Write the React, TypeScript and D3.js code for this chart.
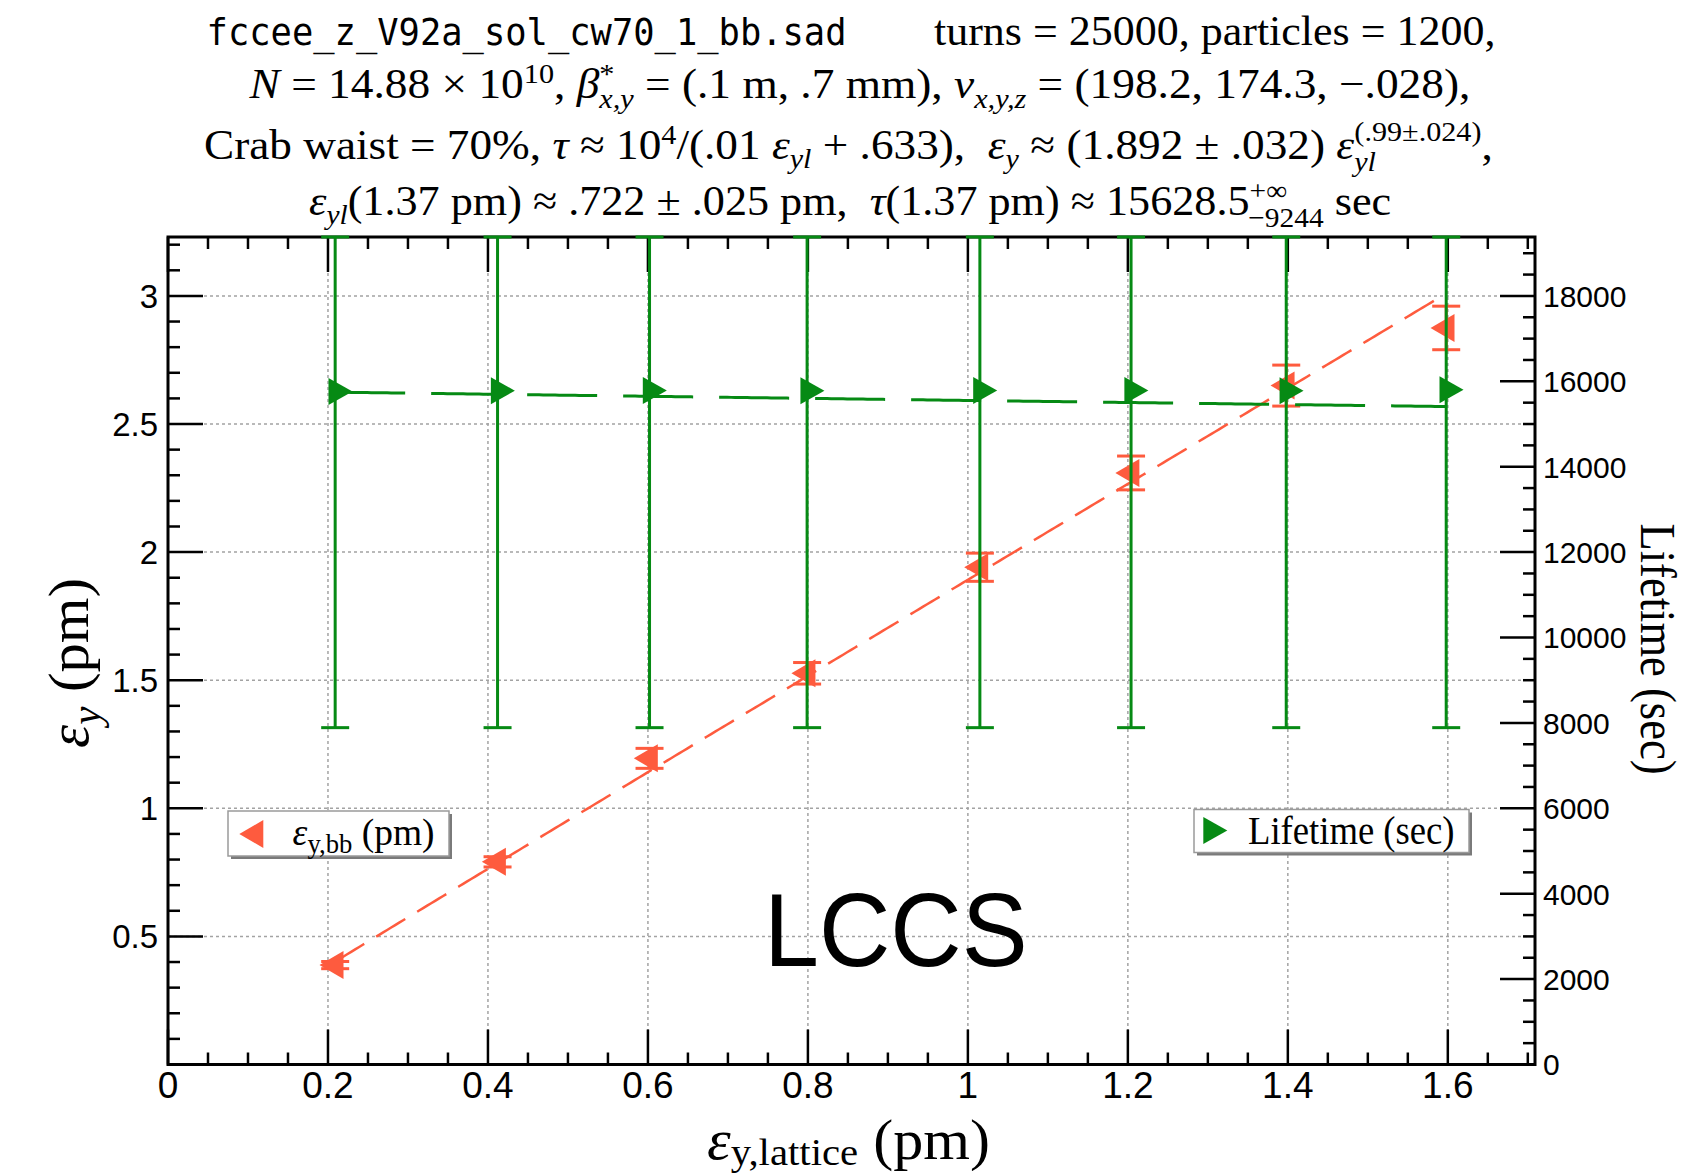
import React, { useLayoutEffect, useRef, useState } from 'react';
import * as d3 from 'd3';

// Lattice vertical emittance (pm) at each scan point
const latticeEmit = [0.209, 0.412, 0.602, 0.799, 1.015, 1.204, 1.398, 1.598];
// Beam-beam vertical emittance (pm) and its error
const bbEmit = [0.388, 0.791, 1.195, 1.527, 1.941, 2.309, 2.65, 2.875];
const bbEmitErr = [0.014, 0.02, 0.039, 0.042, 0.055, 0.066, 0.08, 0.085];
// Lifetime (sec): central value, lower error (upper error is unbounded)
const lifetime = [15763, 15780, 15787, 15780, 15787, 15787, 15780, 15804];
const lifetimeErrLow = [7874, 7891, 7898, 7891, 7898, 7898, 7891, 7915];

// Fit results quoted in the title
const emitFitCoef = 1.892;
const emitFitExp = 0.99;
const lifeFitScale = 1e4;
const lifeFitSlope = 0.01;
const lifeFitOffset = 0.633;

// Axis ticks
const xMajor = [0, 0.2, 0.4, 0.6, 0.8, 1, 1.2, 1.4, 1.6];
const xLabels = ['0', '0.2', '0.4', '0.6', '0.8', '1', '1.2', '1.4', '1.6'];
const yLeftMajor = [0.5, 1, 1.5, 2, 2.5, 3];
const yLeftLabels = ['0.5', '1', '1.5', '2', '2.5', '3'];
const yRightMajor = [0, 2000, 4000, 6000, 8000, 10000, 12000, 14000, 16000, 18000];
const yRightLabels = ['0', '2000', '4000', '6000', '8000', '10000', '12000', '14000', '16000', '18000'];

const W = 1687;
const H = 1176;
const M = { left: 168, right: 1535, top: 237, bottom: 1064.5 };

const RED = '#fe5b3e';
const GREEN = '#068a14';
const SERIF = '"Liberation Serif", "Times New Roman", serif';
const SANS = '"Liberation Sans", Arial, sans-serif';
const MONO = '"DejaVu Sans Mono", monospace';

const x = d3.scaleLinear().domain([0, 1.709]).range([M.left, M.right]);
const yL = d3.scaleLinear().domain([0, 3.23]).range([M.bottom, M.top]);
const yR = d3.scaleLinear().domain([0, 19380]).range([M.bottom, M.top]);

// Text squeezed horizontally so that it spans a given width
function FitText({ x: tx, y: ty, width, rotate = 0, anchor = 'start', font, size, children }: any) {
  const ref = useRef<SVGTextElement>(null);
  const [s, setS] = useState(1);
  useLayoutEffect(() => {
    const measure = () => {
      const el = ref.current;
      if (!el) return;
      const w = el.getBBox().width;
      if (w > 0) setS(width / w);
    };
    measure();
    if ((document as any).fonts) (document as any).fonts.ready.then(measure);
  }, [width]);
  return (
    <g transform={`translate(${tx},${ty}) rotate(${rotate}) scale(${s},1)`}>
      <text ref={ref} x={0} y={0} textAnchor={anchor} fontFamily={font} fontSize={size} style={{ whiteSpace: 'pre' }} fill="#000">
        {children}
      </text>
    </g>
  );
}

const It = ({ children, ...p }: any) => (
  <tspan fontStyle="italic" {...p}>
    {children}
  </tspan>
);

function leftTri(cx: number, cy: number) {
  return `M${cx - 15.7},${cy} L${cx + 8.3},${cy - 14} L${cx + 8.3},${cy + 14} Z`;
}
function rightTri(cx: number, cy: number) {
  return `M${cx + 17.3},${cy} L${cx - 6.7},${cy - 13.5} L${cx - 6.7},${cy + 13.5} Z`;
}

export default function App() {
  const fitX = d3.range(latticeEmit[0], latticeEmit[latticeEmit.length - 1], 0.005).concat([latticeEmit[latticeEmit.length - 1]]);
  const emitLine = d3
    .line<number>()
    .x((d) => x(d))
    .y((d) => yL(emitFitCoef * Math.pow(d, emitFitExp)))(fitX) as string;
  const lifeLine = d3
    .line<number>()
    .x((d) => x(d))
    .y((d) => yR(lifeFitScale / (lifeFitSlope * d + lifeFitOffset)))(fitX) as string;

  const xMinor = d3.range(0, 1.7001, 0.05);
  const yLMinor = d3.range(0.1, 3.2001, 0.1);
  const yRMinor = d3.range(0, 19000.1, 500);
  const majLen = 35;
  const minLen = 12;
  const SUP = 28;

  return (
    <svg width={W} height={H} viewBox={`0 0 ${W} ${H}`} style={{ position: 'absolute', left: 0, top: 0, background: '#fff' }}>
      <rect x={0} y={0} width={W} height={H} fill="#fff" />
      <defs>
        <clipPath id="plotClip">
          <rect x={M.left} y={M.top - 2} width={M.right - M.left} height={M.bottom - M.top + 2} />
        </clipPath>
      </defs>

      {/* grid */}
      <g stroke="#a3a3a3" strokeWidth={1.5} strokeDasharray="3 3">
        {xMajor.slice(1).map((v) => (
          <line key={'gx' + v} x1={x(v)} x2={x(v)} y1={M.top} y2={M.bottom} />
        ))}
        {yLeftMajor.map((v) => (
          <line key={'gy' + v} x1={M.left} x2={M.right} y1={yL(v)} y2={yL(v)} />
        ))}
      </g>

      {/* frame */}
      <rect x={M.left} y={M.top} width={M.right - M.left} height={M.bottom - M.top} fill="none" stroke="#000" strokeWidth={3} />

      {/* ticks */}
      <g stroke="#000" strokeWidth={2.5}>
        {xMinor.map((v, i) => {
          const major = i % 4 === 0;
          const len = major ? majLen : minLen;
          return (
            <g key={'xt' + i}>
              <line x1={x(v)} x2={x(v)} y1={M.bottom} y2={M.bottom - len} />
              <line x1={x(v)} x2={x(v)} y1={M.top} y2={M.top + len} />
            </g>
          );
        })}
        {yLMinor.map((v, i) => {
          const major = (i + 1) % 5 === 0;
          return <line key={'ylt' + i} x1={M.left} x2={M.left + (major ? majLen : minLen)} y1={yL(v)} y2={yL(v)} />;
        })}
        {yRMinor.map((v, i) => {
          const major = i % 4 === 0;
          return <line key={'yrt' + i} x1={M.right} x2={M.right - (major ? majLen : minLen)} y1={yR(v)} y2={yR(v)} />;
        })}
      </g>

      <g clipPath="url(#plotClip)">
        {/* emittance fit */}
        <path d={emitLine} fill="none" stroke={RED} strokeWidth={2.5} strokeDasharray="34 14" />
        {/* emittance error bars */}
        <g stroke={RED} strokeWidth={3}>
          {latticeEmit.map((e, i) => {
            const cx = x(e);
            const y1 = yL(bbEmit[i] + bbEmitErr[i]);
            const y2 = yL(bbEmit[i] - bbEmitErr[i]);
            return (
              <g key={'re' + i}>
                <line x1={cx} x2={cx} y1={y1} y2={y2} />
                <line x1={cx - 14} x2={cx + 14} y1={y1} y2={y1} />
                <line x1={cx - 14} x2={cx + 14} y1={y2} y2={y2} />
              </g>
            );
          })}
        </g>
        {latticeEmit.map((e, i) => (
          <path key={'rm' + i} d={leftTri(x(e), yL(bbEmit[i]))} fill={RED} />
        ))}

        {/* lifetime fit */}
        <path d={lifeLine} fill="none" stroke={GREEN} strokeWidth={3} strokeDasharray="70 26" />
        {/* lifetime error bars, upper side unbounded */}
        <g stroke={GREEN} strokeWidth={3}>
          {latticeEmit.map((e, i) => {
            const cx = x(e);
            const y2 = yR(lifetime[i] - lifetimeErrLow[i]);
            return (
              <g key={'ge' + i}>
                <line x1={cx} x2={cx} y1={M.top} y2={y2} />
                <line x1={cx - 14} x2={cx + 14} y1={M.top} y2={M.top} />
                <line x1={cx - 14} x2={cx + 14} y1={y2} y2={y2} />
              </g>
            );
          })}
        </g>
        {latticeEmit.map((e, i) => (
          <path key={'gm' + i} d={rightTri(x(e), yR(lifetime[i]))} fill={GREEN} />
        ))}
      </g>

      {/* tick labels */}
      <g fontFamily={SANS} fill="#000">
        {xMajor.map((v, i) => (
          <text key={'xl' + i} x={x(v)} y={1098} fontSize={37} textAnchor="middle">
            {xLabels[i]}
          </text>
        ))}
        {yLeftMajor.map((v, i) => (
          <text key={'yll' + i} x={158} y={yL(v)} dy="0.36em" fontSize={33} textAnchor="end">
            {yLeftLabels[i]}
          </text>
        ))}
        {yRightMajor.map((v, i) => (
          <text key={'yrl' + i} x={1543} y={yR(v)} dy="0.36em" fontSize={30} textAnchor="start">
            {yRightLabels[i]}
          </text>
        ))}
      </g>

      {/* legends */}
      <rect x={231} y={814} width={221} height={45} fill="#7a7a7a" />
      <rect x={228} y={811} width={221} height={45} fill="#fff" stroke="#9a9a9a" strokeWidth={1.5} />
      <path d={leftTri(255, 834)} fill={RED} />
      <FitText x={292.6} y={845} width={142} font={SERIF} size={38}>
        <It>ε</It>
        <tspan fontSize={27} dy={8}>y,bb</tspan>
        <tspan dy={-8}>{' (pm)'}</tspan>
      </FitText>

      <rect x={1197} y={812.5} width={275} height={43} fill="#7a7a7a" />
      <rect x={1194} y={809.5} width={275} height={43} fill="#fff" stroke="#9a9a9a" strokeWidth={1.5} />
      <path d={rightTri(1210, 830.5)} fill={GREEN} />
      <FitText x={1248} y={844} width={206.6} font={SERIF} size={40}>
        Lifetime (sec)
      </FitText>

      {/* LCCS label */}
      <FitText x={895.8} y={966} width={263.6} anchor="middle" font={SANS} size={104}>
        LCCS
      </FitText>

      {/* axis titles */}
      <FitText x={848.5} y={1159} width={283} anchor="middle" font={SERIF} size={56}>
        <It>ε</It>
        <tspan fontSize={38} dy={6}>y,lattice</tspan>
        <tspan dy={-6}>{' (pm)'}</tspan>
      </FitText>
      <FitText x={88} y={663} width={170} anchor="middle" rotate={-90} font={SERIF} size={56}>
        <It>ε</It>
        <It fontSize={39} dy={12}>y</It>
        <tspan dy={-12}>{' (pm)'}</tspan>
      </FitText>
      <FitText x={1641} y={649} width={251} anchor="middle" rotate={90} font={SERIF} size={50}>
        Lifetime (sec)
      </FitText>

      {/* title */}
      <FitText x={206.6} y={45} width={640} font={MONO} size={37}>
        fccee_z_V92a_sol_cw70_1_bb.sad
      </FitText>
      <FitText x={934} y={45} width={561.5} font={SERIF} size={42}>
        turns = 25000, particles = 1200,
      </FitText>
      <FitText x={249.6} y={98} width={1222} font={SERIF} size={42}>
        <It>N</It>
        <tspan>{' = 14.88 × 10'}</tspan>
        <tspan fontSize={SUP} dy={-15}>10</tspan>
        <tspan dy={15}>{', '}</tspan>
        <It>β</It>
        <tspan fontSize={SUP} dy={-15}>*</tspan>
        <It fontSize={SUP} dx={-14} dy={25}>x,y</It>
        <tspan dy={-10}>{' = (.1 m, .7 mm), '}</tspan>
        <It>ν</It>
        <It fontSize={SUP} dy={10}>x,y,z</It>
        <tspan dy={-10}>{' = (198.2, 174.3, −.028),'}</tspan>
      </FitText>
      <FitText x={204} y={159} width={1289} font={SERIF} size={42}>
        <tspan>{'Crab waist = 70%, '}</tspan>
        <It>τ</It>
        <tspan>{' ≈ 10'}</tspan>
        <tspan fontSize={SUP} dy={-15}>4</tspan>
        <tspan dy={15}>{'/(.01 '}</tspan>
        <It>ε</It>
        <It fontSize={SUP} dy={9}>yl</It>
        <tspan dy={-9}>{' + .633),  '}</tspan>
        <It>ε</It>
        <It fontSize={SUP} dy={9}>y</It>
        <tspan dy={-9}>{' ≈ (1.892 ± .032) '}</tspan>
        <It>ε</It>
        <It fontSize={SUP} dy={12}>yl</It>
        <tspan fontSize={SUP} dx={-20} dy={-30}>(.99±.024)</tspan>
        <tspan dy={18}>,</tspan>
      </FitText>
      <FitText x={309} y={215} width={1082} font={SERIF} size={42}>
        <It>ε</It>
        <It fontSize={SUP} dy={9}>yl</It>
        <tspan dy={-9}>{'(1.37 pm) ≈ .722 ± .025 pm,  '}</tspan>
        <It>τ</It>
        <tspan>{'(1.37 pm) ≈ 15628.5'}</tspan>
        <tspan fontSize={SUP} dy={-15}>+∞</tspan>
        <tspan fontSize={SUP} dx={-37} dy={27}>−9244</tspan>
        <tspan dy={-12}>{' sec'}</tspan>
      </FitText>
    </svg>
  );
}
